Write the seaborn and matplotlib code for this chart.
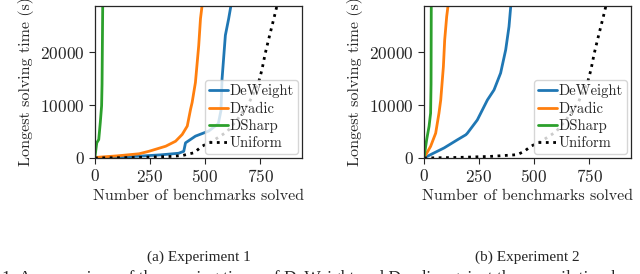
import numpy as np
import pandas as pd
import matplotlib
matplotlib.use("Agg")
import matplotlib.pyplot as plt
import seaborn as sns

# benchmarks solved (x) vs longest solving time in seconds (y)
series_names = ["DeWeight", "Dyadic", "DSharp", "Uniform"]

exp1_deweight_x = [0, 100, 200, 300, 380, 403, 411, 456, 516, 560, 572, 577, 592, 607, 617, 625]
exp1_deweight_y = [0, 150, 350, 600, 900, 1270, 2870, 4140, 5100, 6500, 9000, 15000, 23250, 26400, 28800, 32000]
exp1_dyadic_x = [0, 100, 200, 245, 321, 366, 396, 419, 434, 441, 456, 471, 479, 486, 490]
exp1_dyadic_y = [100, 400, 800, 1270, 2230, 3180, 4460, 6050, 9240, 10500, 14300, 21300, 26400, 28800, 32000]
exp1_dsharp_x = [0, 8, 17, 24, 30, 32, 35, 36]
exp1_dsharp_y = [300, 2870, 3500, 6700, 9900, 14000, 28800, 32000]
exp1_uniform_x = [0, 200, 350, 400, 450, 485, 545, 600, 650, 700, 742, 758, 773, 788, 803, 818, 826, 840]
exp1_uniform_y = [0, 100, 300, 500, 1000, 2200, 3500, 5000, 7500, 10500, 14200, 16700, 19800, 22400, 24900, 27400, 28800, 32000]

exp2_deweight_x = [0, 45, 91, 152, 190, 197, 242, 288, 318, 348, 371, 386, 394, 398]
exp2_deweight_y = [0, 950, 1900, 3460, 4400, 4700, 7200, 11000, 12900, 16100, 20500, 24900, 28800, 32000]
exp2_dyadic_x = [0, 30, 53, 68, 76, 88, 94, 103, 109, 111]
exp2_dyadic_y = [0, 2200, 4700, 8500, 11000, 17300, 22400, 26800, 28800, 32000]
exp2_dsharp_x = [0, 12, 23, 30, 32, 33, 34]
exp2_dsharp_y = [0, 3460, 6000, 8500, 14000, 28800, 32000]
exp2_uniform_x = [0, 150, 300, 424, 455, 485, 545, 600, 650, 700, 742, 758, 773, 788, 803, 818, 826, 840]
exp2_uniform_y = [0, 100, 300, 630, 1260, 2200, 3500, 5000, 7500, 10500, 14200, 16700, 19800, 22400, 24900, 27400, 28800, 32000]

subcaptions = ["(a) Experiment 1", "(b) Experiment 2"]
caption = ("1: A comparison of the running times of DeWeight and Dyadic "
           "against the compilation-based approaches")


def make_frame(xs, ys):
    rows = []
    for name, x, y in zip(series_names, xs, ys):
        rows.append(pd.DataFrame({"solved": x, "time": y, "method": name}))
    return pd.concat(rows, ignore_index=True)


exp1 = make_frame([exp1_deweight_x, exp1_dyadic_x, exp1_dsharp_x, exp1_uniform_x],
                  [exp1_deweight_y, exp1_dyadic_y, exp1_dsharp_y, exp1_uniform_y])
exp2 = make_frame([exp2_deweight_x, exp2_dyadic_x, exp2_dsharp_x, exp2_uniform_x],
                  [exp2_deweight_y, exp2_dyadic_y, exp2_dsharp_y, exp2_uniform_y])

sns.set_style("ticks")
plt.rcParams["font.family"] = ["cmr10", "DejaVu Serif"]
plt.rcParams["axes.formatter.use_mathtext"] = True
plt.rcParams["font.size"] = 12

palette = {"DeWeight": "#1f77b4", "Dyadic": "#ff7f0e", "DSharp": "#2ca02c", "Uniform": "black"}

fig = plt.figure(figsize=(6.4, 2.74), dpi=100)
ax_w, ax_h = 207 / 640, 152 / 274
ax_bottom = (274 - 158) / 274
axes = [fig.add_axes([95 / 640, ax_bottom, ax_w, ax_h]),
        fig.add_axes([424 / 640, ax_bottom, ax_w, ax_h])]

for ax, df, sub in zip(axes, [exp1, exp2], subcaptions):
    for name in series_names:
        part = df[df["method"] == name]
        sns.lineplot(data=part, x="solved", y="time", ax=ax, color=palette[name],
                     linestyle=":" if name == "Uniform" else "-", linewidth=2,
                     estimator=None, sort=False, label=name)
    ax.set_xlim(0, 940)
    ax.set_ylim(0, 28800)
    ax.set_xticks([0, 250, 500, 750])
    ax.set_yticks([0, 10000, 20000])
    ax.set_xlabel("Number of benchmarks solved", fontsize=11.5, labelpad=3)
    ax.set_ylabel("Longest solving time (s)", fontsize=11.5)
    ax.tick_params(labelsize=12.5, length=4, width=0.8)
    for sp in ax.spines.values():
        sp.set_linewidth(0.9)
        sp.set_visible(True)
    ax.legend(loc="lower right", fontsize=10.5, handlelength=1.3, handletextpad=0.1,
              labelspacing=0.22, borderpad=0.3, borderaxespad=0.25,
              framealpha=0.8, fancybox=True)
    pos = ax.get_position()
    fig.text(pos.x0 + pos.width / 2, 1 - 257 / 274, sub, ha="center", va="center",
             family="Liberation Serif", fontsize=11)

fig.text(0.003, 1 - 270.5 / 274, caption, ha="left", va="top",
         family="Liberation Serif", fontsize=12.5)

fig.savefig("out.png", dpi=100)
